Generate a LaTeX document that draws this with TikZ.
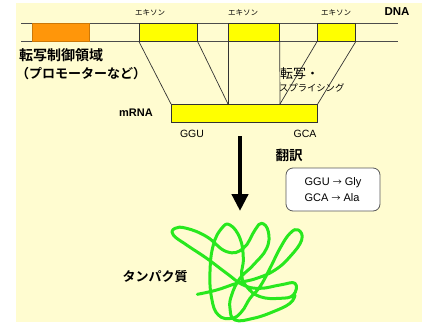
\documentclass[tikz,border=0pt]{standalone}
\usepackage{fontspec}
\setmainfont{Liberation Sans}
\newfontfamily\jp{Noto Sans CJK JP}
\newfontfamily\jpb{Noto Sans CJK JP Bold}
\usetikzlibrary{arrows.meta}

\definecolor{bgcream}{RGB}{255,252,208}
\definecolor{promoter}{RGB}{255,150,10}
\definecolor{exonfill}{RGB}{255,255,0}
\definecolor{protein}{RGB}{40,232,30}

\begin{document}
\begin{tikzpicture}[x=1pt,y=-1pt,
  seg/.style={draw=black!80, line width=0.7pt, minimum height=18pt,
    inner sep=0pt, anchor=north west},
  exonlabel/.style={font=\jp\fontsize{7.5}{9}\selectfont, inner sep=0pt},
  bigjp/.style={font=\jpb\fontsize{14}{16}\selectfont, inner sep=0pt},
  splice/.style={draw=black!80, line width=0.7pt},
  codon/.style={font=\fontsize{10.5}{12}\selectfont, inner sep=0pt}]
\useasboundingbox (0,0) rectangle (422,324);
\fill[bgcream] (16,3) rectangle (422,322);

% DNA strand
\coordinate (dnaL1) at (21,23);
\coordinate (dnaR1) at (398,23);
\coordinate (dnaL2) at (21,41);
\coordinate (dnaR2) at (398,41);
\draw[black!70, line width=0.8pt] (dnaL1) -- (dnaR1);
\draw[black!70, line width=0.8pt] (dnaL2) -- (dnaR2);

\node[seg, fill=promoter, draw=promoter!80!black, minimum width=57pt] (prom) at (32,23) {};
\node[seg, fill=exonfill, minimum width=58pt] (ex1) at (139,23) {};
\node[seg, fill=exonfill, minimum width=51pt] (ex2) at (228,23) {};
\node[seg, fill=exonfill, minimum width=38pt] (ex3) at (317,23) {};

\node[exonlabel] (lab1) at (150,13) {エキソン};
\node[exonlabel] (lab2) at (243,13) {エキソン};
\node[exonlabel] (lab3) at (336,13) {エキソン};
\node[font=\bfseries\fontsize{11.5}{13}\selectfont, inner sep=0pt] (dna) at (397,12) {DNA};

\node[bigjp, anchor=west] (ctrl) at (19,55) {転写制御領域};
\node[font=\jpb\fontsize{13}{15}\selectfont, inner sep=0pt, anchor=west] (ctrl2) at (16,74) {（プロモーターなど）};

% mRNA
\node[seg, fill=exonfill, minimum width=146pt] (mrna) at (171,104) {};
\coordinate (j1) at (228,104);
\coordinate (j2) at (280,104);
\node[font=\bfseries\fontsize{11}{13}\selectfont, inner sep=0pt] (mrnalab) at (136,113) {mRNA};

% splicing connectors
\draw[splice] (ex1.south west) -- (mrna.north west);
\draw[splice] (ex1.south east) -- (j1);
\draw[splice] (ex2.south west) -- (j1);
\draw[splice] (ex2.south east) -- (j2);
\draw[splice] (ex3.south west) -- (j2);
\draw[splice] (ex3.south east) -- (mrna.north east);

\node[font=\jp\fontsize{13}{15}\selectfont, inner sep=0pt, anchor=west] (tr) at (280,74) {転写・};
\node[font=\jp\fontsize{9.3}{11}\selectfont, inner sep=0pt, anchor=west] (sp) at (279,88) {スプライシング};

\node[codon] (ggu) at (192,134) {GGU};
\node[codon] (gca) at (305,134) {GCA};

% translation
\coordinate (arrtop) at (240,136);
\coordinate (arrbot) at (240,211);
\draw[line width=4.5pt, -{Triangle[length=17pt,width=16pt]}] (arrtop) -- (arrbot);
\node[font=\jpb\fontsize{13.5}{15}\selectfont, inner sep=0pt] (hon) at (289,155) {翻訳};

\node[draw=black!65, line width=0.8pt, fill=white, rounded corners=7pt,
  minimum width=94pt, minimum height=43pt, inner sep=0pt,
  font=\fontsize{11}{16}\selectfont, align=left] (code) at (333,189.5)
  {GGU {\jp\fontsize{9}{10}\selectfont →} Gly\\GCA {\jp\fontsize{9}{10}\selectfont →} Ala};

% protein
\node[font=\jpb\fontsize{13}{15}\selectfont, inner sep=0pt] (prot) at (155,277) {タンパク質};
\begin{scope}[shift={(160,215)}, x=0.3333pt, y=-0.3333pt]
\draw[protein, line width=3pt, line cap=round, line join=round]
  plot[smooth, tension=0.75] coordinates {
  (112,238) (170,225) (230,205) (290,190) (345,165) (390,125) (425,75)
  (415,45) (390,55) (360,100) (330,160) (300,215) (270,250) (245,290)
  (215,310) (175,300) (155,250) (150,170) (160,90) (185,40) (210,30)
  (240,70) (250,130) (245,180) (260,215) (300,245) (360,250) (400,240)
  (405,205) (360,210) (300,220) (250,210) (200,175) (140,130) (80,90)
  (40,60) (45,40) (80,40) (140,65) (200,110) (250,100) (285,45) (305,25)
  (325,50) (320,100) (280,150) (240,190) (215,240) (210,280) (225,315)
  (280,310) (340,290) (390,265) (405,240)};
\end{scope}
\end{tikzpicture}
\end{document}
